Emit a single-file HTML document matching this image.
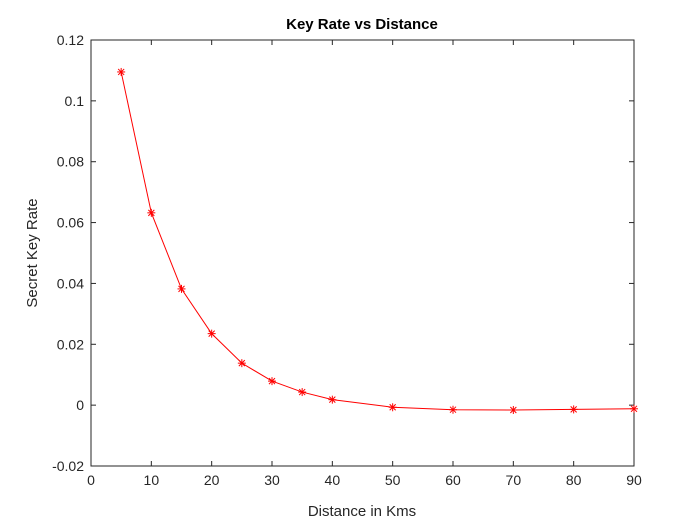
<!DOCTYPE html>
<html><head><meta charset="utf-8"><style>
html,body{margin:0;padding:0;background:#fff;}
svg{display:block;font-family:"Liberation Sans",Arial,sans-serif;}
</style></head><body>
<svg id="chart" width="700" height="525" viewBox="0 0 700 525">
<rect x="0" y="0" width="700" height="525" fill="#fff"/>
<rect x="91" y="40" width="543" height="426" fill="#fff" stroke="#262626" stroke-width="1"/>
<g id="ticks"></g>
<text x="362" y="29" text-anchor="middle" font-size="15" font-weight="bold" fill="#000">Key Rate vs Distance</text>
<text x="362" y="516" text-anchor="middle" font-size="15" fill="#262626">Distance in Kms</text>
<text transform="translate(37,253) rotate(-90)" text-anchor="middle" font-size="15" fill="#262626">Secret Key Rate</text>
<g id="series"></g>
</svg>
<script>
const distances=[5,10,15,20,25,30,35,40,50,60,70,80,90];
const keyRates=[0.1095,0.0632,0.0382,0.0235,0.0138,0.0079,0.0043,0.0018,-0.0007,-0.0015,-0.0016,-0.0014,-0.0012];
const xTicks=[0,10,20,30,40,50,60,70,80,90];
const yTicks=[-0.02,0,0.02,0.04,0.06,0.08,0.1,0.12];
const yTickLabels=["-0.02","0","0.02","0.04","0.06","0.08","0.1","0.12"];
const L=91,R=634,T=40,B=466;
const xs=v=>L+(v-0)/(90-0)*(R-L);
const ys=v=>B-(v+0.02)/(0.14)*(B-T);
const NS="http://www.w3.org/2000/svg";
const tg=document.getElementById('ticks');
function mk(tag,attrs,parent){const e=document.createElementNS(NS,tag);for(const k in attrs)e.setAttribute(k,attrs[k]);parent.appendChild(e);return e;}
xTicks.forEach(t=>{const x=xs(t);
 let l=mk('line',{x1:x,x2:x,y1:B,y2:B-5,stroke:'#262626'},tg);
 
 
 let l2=mk('line',{x1:x,x2:x,y1:T,y2:T+5,stroke:'#262626'},tg);
 
 
 let tx=mk('text',{x:x,y:B+19,'text-anchor':'middle','font-size':'14',fill:'#262626'},tg);tx.textContent=t;
 
 
});
yTicks.forEach((t,i)=>{const y=ys(t);
 let l=mk('line',{x1:L,x2:L+5,y1:y,y2:y,stroke:'#262626'},tg);
 
 
 let l2=mk('line',{x1:R,x2:R-5,y1:y,y2:y,stroke:'#262626'},tg);
 
 
 let tx=mk('text',{x:L-7,y:y+5,'text-anchor':'end','font-size':'14',fill:'#262626'},tg);tx.textContent=yTickLabels[i];
 
 
});
const sg=document.getElementById('series');
const pts=distances.map((d,i)=>xs(d)+','+ys(keyRates[i])).join(' ');
let pl=mk('polyline',{points:pts,fill:'none',stroke:'#ff0000','stroke-width':'1'},sg);


distances.forEach((d,i)=>{const x=xs(d),y=ys(keyRates[i]),s=4;
 const g=mk('g',{stroke:'#ff0000','stroke-width':'1'},sg);
 
 
 mk('line',{x1:x-s,x2:x+s,y1:y,y2:y},g);
 mk('line',{x1:x,x2:x,y1:y-s,y2:y+s},g);
 mk('line',{x1:x-3,x2:x+3,y1:y-3,y2:y+3},g);
 mk('line',{x1:x-3,x2:x+3,y1:y+3,y2:y-3},g);
});
</script>
</body></html>
